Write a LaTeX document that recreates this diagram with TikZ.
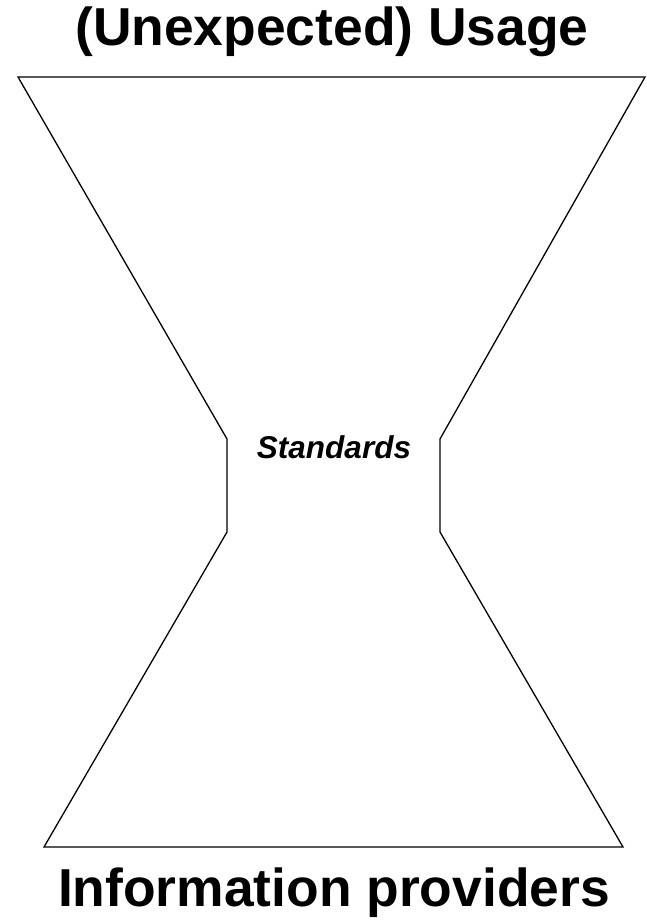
\documentclass[tikz,border=0pt]{standalone}
\usepackage{fontspec}
\setmainfont{Liberation Sans}
\usepackage{tikz}
\usetikzlibrary{positioning}

\begin{document}
\begin{tikzpicture}[
    x=1pt, y=-1pt,
    outline/.style={draw, line width=1.3pt, line join=miter},
    heading/.style={anchor=base, inner sep=0pt, font=\fontsize{53.4}{60}\selectfont\bfseries},
    waist/.style={anchor=base, inner sep=0pt, font=\fontsize{31.5}{36}\selectfont\bfseries\itshape}
]
\useasboundingbox (0,0) rectangle (646,920);
% corners of the hourglass
\coordinate (tl) at (18,77);
\coordinate (tr) at (645,77);
\coordinate (ml1) at (227,439);
\coordinate (ml2) at (227,532);
\coordinate (mr1) at (440,439);
\coordinate (mr2) at (440,532);
\coordinate (bl) at (44,847);
\coordinate (br) at (623,847);
\draw[outline] (tl) -- (tr) -- (mr1) -- (mr2) -- (br) -- (bl) -- (ml2) -- (ml1) -- cycle;

\node[heading] (usage) at (332,46) {(Unexpected) Usage};
\node[waist] (standards) at (334,458) {Standards};
\node[heading] (providers) at (334,906) {Information providers};
\end{tikzpicture}
\end{document}
